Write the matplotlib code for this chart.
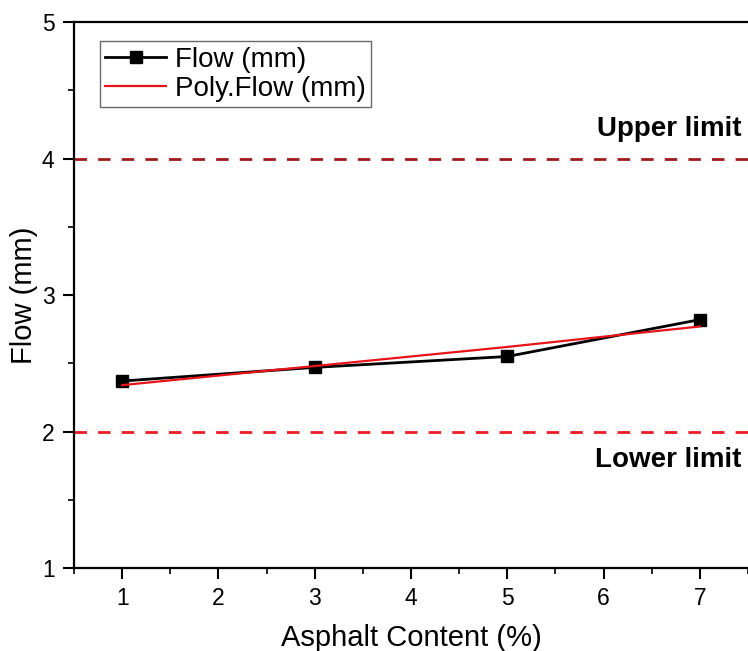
import numpy as np
import matplotlib
matplotlib.use("Agg")
import matplotlib.pyplot as plt
from matplotlib.ticker import MultipleLocator

plt.rcParams['font.family'] = ['Liberation Sans', 'DejaVu Sans']

# data
asphalt = [1, 3, 5, 7]
flow = [2.37, 2.47, 2.55, 2.82]
poly_x = [1, 3, 5, 7]
poly_flow = [2.34, 2.48, 2.62, 2.77]
upper_limit = 4
lower_limit = 2

fig = plt.figure(figsize=(7.48, 6.51), dpi=100)
ax = fig.add_axes([0.099, 0.1275, 0.901, 0.8385])

ax.plot(asphalt, flow, color='black', lw=2, marker='s', ms=9, label='Flow (mm)')
ax.plot(poly_x, poly_flow, color='#e8141b', lw=1.6, label='Poly.Flow (mm)')

ax.axhline(upper_limit, color='#a01c1c', lw=2, ls=(0, (4.5, 4)))
ax.axhline(lower_limit, color='#ee1c24', lw=2, ls=(0, (4.5, 4)))
ax.text(7.43, 4.22, 'Upper limit', ha='right', va='center', fontsize=20, fontweight='bold')
ax.text(7.43, 1.79, 'Lower limit', ha='right', va='center', fontsize=20, fontweight='bold')

ax.set_xlim(0.5, 7.5)
ax.set_ylim(1, 5)
ax.xaxis.set_major_locator(MultipleLocator(1))
ax.xaxis.set_minor_locator(MultipleLocator(0.5))
ax.yaxis.set_major_locator(MultipleLocator(1))
ax.yaxis.set_minor_locator(MultipleLocator(0.5))
ax.tick_params(which='major', direction='out', length=8, width=1.5, labelsize=16.5, pad=6)
ax.tick_params(which='minor', direction='out', length=4, width=1.2)
for s in ['left', 'bottom', 'top']:
    ax.spines[s].set_linewidth(1.6)
ax.spines['right'].set_visible(False)

ax.set_xlabel('Asphalt Content (%)', fontsize=21, labelpad=10)
ax.set_ylabel('Flow (mm)', fontsize=21, labelpad=3)

leg = ax.legend(loc='upper left', bbox_to_anchor=(0.03, 0.975), fontsize=20,
                frameon=True, fancybox=False, edgecolor='#444444',
                handlelength=2.2, handletextpad=0.3, borderpad=0.2, labelspacing=0.1,
                borderaxespad=0.2)
leg.get_frame().set_linewidth(1.0)

fig.savefig('out.png', dpi=100)
